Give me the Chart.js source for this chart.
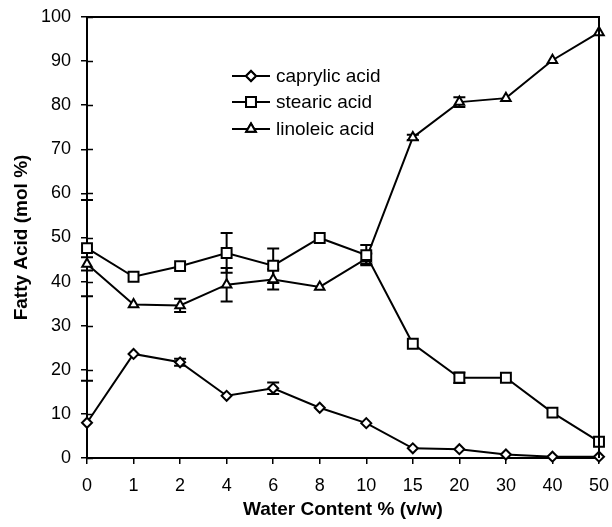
<!DOCTYPE html>
<html>
<head>
<meta charset="utf-8">
<script src="https://cdn.jsdelivr.net/npm/chart.js@4/dist/chart.umd.min.js"></script>
<style>
  html, body { margin: 0; padding: 0; background: #fff; }
  #wrap { width: 612px; height: 527px; }
</style>
</head>
<body>
<div id="wrap"><canvas id="fattyChart" width="612" height="527"></canvas></div>
<script>
// Water content % (v/w) - evenly spaced categories
const waterContent = ['0', '1', '2', '4', '6', '8', '10', '15', '20', '30', '40', '50'];

// Fatty acid composition (mol %)
const caprylic = [8.0, 23.6, 21.7, 14.1, 15.8, 11.4, 7.9, 2.2, 2.0, 0.8, 0.3, 0.3];
const stearic  = [47.6, 41.1, 43.5, 46.5, 43.6, 49.9, 46.0, 25.9, 18.2, 18.2, 10.3, 3.7];
const linoleic = [44.0, 34.8, 34.6, 39.3, 40.5, 38.8, 45.2, 72.7, 80.7, 81.6, 90.2, 96.5];

// Standard deviations (null = no bar)
const caprylicErr = [9.5, null, 0.8, null, 1.3, null, null, null, null, null, null, null];
const stearicErr  = [10.9, null, null, 4.5, 3.9, null, 2.3, null, 1.2, null, null, null];
const linoleicErr = [1.5, null, 1.5, 3.8, 2.3, null, 1.2, 0.6, 1.1, null, null, null];

const yTicks = [0, 10, 20, 30, 40, 50, 60, 70, 80, 90, 100];

const FONT = '"Liberation Sans", Arial, Helvetica, sans-serif';

// error bars, drawn before the lines so the markers sit on top
const errorBars = {
    id: 'errorBars',
    beforeDatasetsDraw(chart) {
        const ctx = chart.ctx;
        const y = chart.scales.y;
        const area = chart.chartArea;
        ctx.save();
        ctx.beginPath();
        ctx.rect(area.left - 10, area.top, area.right - area.left + 20, area.bottom - area.top);
        ctx.clip();
        ctx.strokeStyle = '#000';
        ctx.lineWidth = 2;
        chart.data.datasets.forEach((ds, i) => {
            const meta = chart.getDatasetMeta(i);
            ds.errors.forEach((e, j) => {
                if (e == null) return;
                const x = meta.data[j].x;
                const v = ds.data[j];
                const yHi = y.getPixelForValue(v + e);
                const yLo = y.getPixelForValue(v - e);
                ctx.beginPath();
                ctx.moveTo(x, yHi); ctx.lineTo(x, yLo);
                ctx.moveTo(x - 6, yHi); ctx.lineTo(x + 6, yHi);
                ctx.moveTo(x - 6, yLo); ctx.lineTo(x + 6, yLo);
                ctx.stroke();
            });
        });
        ctx.restore();
    }
};

// top and right frame lines, plus the inner half of the y ticks
const frame = {
    id: 'frame',
    afterDraw(chart) {
        const ctx = chart.ctx;
        const a = chart.chartArea;
        const y = chart.scales.y;
        ctx.save();
        ctx.strokeStyle = '#000';
        ctx.lineWidth = 2;
        ctx.beginPath();
        ctx.moveTo(a.left, a.top);
        ctx.lineTo(a.right, a.top);
        ctx.lineTo(a.right, a.bottom);
        ctx.stroke();
        ctx.lineWidth = 1.5;
        ctx.beginPath();
        yTicks.forEach(v => {
            const py = Math.round(y.getPixelForValue(v)) + 0.5;
            ctx.moveTo(a.left, py);
            ctx.lineTo(a.left + 6, py);
        });
        ctx.stroke();
        ctx.restore();
    }
};

// legend inside the plot: line with marker, then label
const innerLegend = {
    id: 'innerLegend',
    afterDraw(chart) {
        const ctx = chart.ctx;
        const rows = [76, 102, 129];
        ctx.save();
        chart.data.datasets.forEach((ds, i) => {
            const yy = rows[i];
            ctx.strokeStyle = '#000';
            ctx.lineWidth = 2;
            ctx.beginPath();
            ctx.moveTo(232, yy);
            ctx.lineTo(270, yy);
            ctx.stroke();
            ctx.fillStyle = '#fff';
            Chart.helpers.drawPoint(ctx, {
                pointStyle: ds.pointStyle,
                radius: ds.pointRadius,
                borderWidth: 2,
                rotation: 0
            }, 251, yy);
            ctx.fill();
            ctx.stroke();
            ctx.fillStyle = '#000';
            ctx.font = '19px ' + FONT;
            ctx.textBaseline = 'middle';
            ctx.textAlign = 'left';
            ctx.fillText(ds.label, 276, yy + 1);
        });
        ctx.restore();
    }
};

function serie(label, data, errors, style, radius) {
    return {
        label: label,
        data: data,
        errors: errors,
        borderColor: '#000',
        borderWidth: 2,
        tension: 0,
        pointStyle: style,
        pointRadius: radius,
        pointBorderWidth: 2,
        pointBorderColor: '#000',
        pointBackgroundColor: '#fff',
        clip: false
    };
}

document.addEventListener('DOMContentLoaded', () => {
    const ctx = document.getElementById('fattyChart').getContext('2d');
    new Chart(ctx, {
        type: 'line',
        data: {
            labels: waterContent,
            datasets: [
                serie('caprylic acid', caprylic, caprylicErr, 'rectRot', 5),
                serie('stearic acid', stearic, stearicErr, 'rect', 7),
                serie('linoleic acid', linoleic, linoleicErr, 'triangle', 5.5)
            ]
        },
        options: {
            responsive: false,
            animation: false,
            events: [],
            layout: { padding: { top: 17, right: 13, left: 0, bottom: 0 } },
            plugins: {
                legend: { display: false },
                tooltip: { enabled: false }
            },
            scales: {
                x: {
                    type: 'category',
                    offset: false,
                    grid: { drawOnChartArea: false, drawTicks: true, tickLength: 6, color: '#000', lineWidth: 1.5 },
                    border: { color: '#000', width: 2 },
                    ticks: { color: '#000', font: { family: FONT, size: 18 }, padding: 11, maxRotation: 0 },
                    title: {
                        display: true,
                        text: 'Water Content % (v/w)',
                        color: '#000',
                        font: { family: FONT, size: 19, weight: 'bold' },
                        padding: { top: 0, bottom: 6 }
                    },
                    afterFit(scale) {
                        scale.height = 69;
                        scale.paddingLeft = 0;
                        scale.paddingRight = 0;
                    }
                },
                y: {
                    min: 0,
                    max: 100,
                    afterBuildTicks(scale) { scale.ticks = yTicks.map(v => ({ value: v })); },
                    grid: { drawOnChartArea: false, drawTicks: true, tickLength: 6, color: '#000', lineWidth: 1.5 },
                    border: { color: '#000', width: 2 },
                    ticks: { color: '#000', font: { family: FONT, size: 18 }, padding: 10 },
                    title: {
                        display: true,
                        text: 'Fatty Acid (mol %)',
                        color: '#000',
                        font: { family: FONT, size: 19, weight: 'bold' },
                        padding: { top: 10, bottom: 0 }
                    },
                    afterFit(scale) {
                        scale.width = 87;
                        scale.paddingTop = 0;
                        scale.paddingBottom = 0;
                    }
                }
            }
        },
        plugins: [errorBars, frame, innerLegend]
    });
});
</script>
</body>
</html>
